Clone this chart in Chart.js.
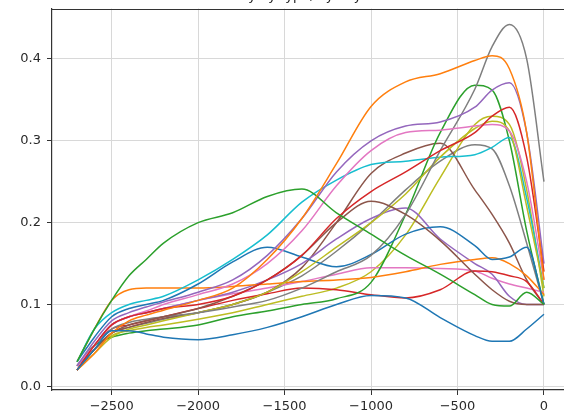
<!DOCTYPE html>
<html>
<head>
<meta charset="utf-8">
<script src="https://cdn.jsdelivr.net/npm/chart.js@4/dist/chart.umd.min.js"></script>
<style>
  html, body { margin: 0; padding: 0; background: #fff; overflow: hidden; width: 564px; height: 416px; }
  #wrap { position: absolute; left: 0; top: -20px; width: 568px; height: 436px; }
</style>
</head>
<body>
<div id="wrap"><canvas id="c" width="568" height="436"></canvas></div>
<script>
const titleText = "Density by type, by day";
const xs = [-2700,-2600,-2500,-2400,-2300,-2200,-2000,-1800,-1600,-1400,-1200,-1000,-800,-600,-400,-300,-200,-100,0];
const xTicks = [-2500,-2000,-1500,-1000,-500,0];
const yTicks = [0.0,0.1,0.2,0.3,0.4];

const s01 = [0.020,0.045,0.068,0.068,0.064,0.060,0.057,0.063,0.072,0.085,0.100,0.111,0.108,0.084,0.062,0.055,0.055,0.070,0.088];
const s02 = [0.020,0.040,0.065,0.080,0.087,0.093,0.105,0.120,0.155,0.205,0.272,0.342,0.372,0.382,0.398,0.404,0.388,0.310,0.130];
const s03 = [0.030,0.070,0.105,0.135,0.155,0.175,0.200,0.212,0.232,0.241,0.212,0.186,0.160,0.137,0.112,0.100,0.098,0.115,0.100];
const s04 = [0.020,0.050,0.075,0.085,0.090,0.095,0.100,0.110,0.130,0.160,0.205,0.238,0.262,0.288,0.310,0.330,0.341,0.280,0.140];
const s05 = [0.025,0.055,0.080,0.090,0.097,0.103,0.115,0.130,0.160,0.205,0.262,0.300,0.318,0.323,0.341,0.362,0.371,0.310,0.150];
const s06 = [0.020,0.045,0.065,0.075,0.080,0.085,0.095,0.110,0.130,0.160,0.200,0.226,0.210,0.178,0.137,0.118,0.104,0.100,0.100];
const s07 = [0.025,0.050,0.075,0.085,0.092,0.100,0.112,0.125,0.150,0.190,0.245,0.288,0.310,0.313,0.318,0.320,0.312,0.250,0.130];
const s08 = [0.025,0.050,0.070,0.078,0.082,0.085,0.090,0.097,0.105,0.120,0.140,0.160,0.210,0.288,0.363,0.415,0.442,0.400,0.250];
const s09 = [0.020,0.040,0.060,0.070,0.075,0.080,0.090,0.100,0.115,0.140,0.170,0.200,0.235,0.280,0.315,0.324,0.312,0.220,0.120];
const s10 = [0.030,0.070,0.090,0.100,0.105,0.110,0.130,0.155,0.185,0.225,0.252,0.271,0.275,0.280,0.283,0.292,0.304,0.230,0.120];
const s11 = [0.030,0.060,0.085,0.095,0.100,0.105,0.125,0.152,0.170,0.158,0.146,0.161,0.186,0.195,0.172,0.155,0.158,0.170,0.100];
const s12 = [0.030,0.070,0.105,0.118,0.120,0.120,0.120,0.122,0.125,0.128,0.130,0.133,0.140,0.149,0.155,0.157,0.150,0.135,0.112];
const s13 = [0.025,0.050,0.060,0.065,0.068,0.070,0.075,0.085,0.092,0.100,0.107,0.127,0.210,0.310,0.368,0.362,0.300,0.190,0.100];
const s14 = [0.020,0.050,0.070,0.075,0.080,0.085,0.095,0.105,0.113,0.120,0.118,0.112,0.108,0.118,0.141,0.140,0.135,0.128,0.100];
const s15 = [0.025,0.050,0.075,0.085,0.090,0.095,0.105,0.115,0.130,0.150,0.180,0.205,0.218,0.180,0.150,0.137,0.110,0.100,0.100];
const s16 = [0.020,0.045,0.065,0.072,0.078,0.083,0.090,0.100,0.115,0.145,0.200,0.260,0.285,0.297,0.240,0.210,0.175,0.130,0.100];
const s17 = [0.025,0.050,0.075,0.085,0.090,0.095,0.105,0.113,0.120,0.128,0.137,0.145,0.145,0.144,0.141,0.132,0.125,0.120,0.115];
const s18 = [0.020,0.045,0.062,0.068,0.072,0.075,0.082,0.090,0.100,0.110,0.120,0.140,0.185,0.255,0.320,0.330,0.320,0.240,0.110];
const s19 = [0.020,0.045,0.065,0.072,0.077,0.082,0.090,0.100,0.115,0.135,0.165,0.200,0.240,0.275,0.295,0.290,0.245,0.175,0.100];

const series = [s01,s02,s03,s04,s05,s06,s07,s08,s09,s10,s11,s12,s13,s14,s15,s16,s17,s18,s19];
const colors = ['#1f77b4','#ff7f0e','#2ca02c','#d62728','#9467bd','#8c564b','#e377c2','#7f7f7f','#bcbd22','#17becf',
                '#1f77b4','#ff7f0e','#2ca02c','#d62728','#9467bd','#8c564b','#e377c2','#bcbd22','#7f7f7f'];

const datasets = series.map((s, k) => ({
  data: xs.map((x, i) => ({x: x, y: s[i]})),
  borderColor: colors[k],
  backgroundColor: colors[k],
  borderWidth: 1.5,
  pointRadius: 0,
  fill: false,
  cubicInterpolationMode: 'monotone'
}));

const topSpine = {
  id: 'topSpine',
  afterDraw(chart) {
    const a = chart.chartArea, ctx = chart.ctx;
    ctx.save();
    ctx.strokeStyle = '#333';
    ctx.lineWidth = 1.2;
    ctx.beginPath();
    ctx.moveTo(a.left, Math.round(a.top) + 0.5);
    ctx.lineTo(a.right, Math.round(a.top) + 0.5);
    ctx.stroke();
    ctx.restore();
  }
};

const fmtX = v => v < 0 ? '\u2212' + Math.abs(v) : String(v);

new Chart(document.getElementById('c'), {
  type: 'line',
  data: { datasets },
  plugins: [topSpine],
  options: {
    responsive: false,
    animation: false,
    devicePixelRatio: 1,
    layout: { padding: 0 },
    plugins: {
      legend: { display: false },
      tooltip: { enabled: false },
      title: {
        display: true,
        text: titleText,
        color: '#222',
        font: { family: 'DejaVu Sans', size: 13, weight: 'normal' },
        padding: { top: 9, bottom: 4 }
      }
    },
    scales: {
      x: {
        type: 'linear',
        min: -2845, max: 139,
        afterBuildTicks: ax => { ax.ticks = xTicks.map(v => ({value: v})); },
        afterFit: sc => { sc.height = 26; },
        grid: { color: '#d8d8d8', lineWidth: 1, tickColor: '#333', tickLength: 5 },
        border: { display: true, color: '#333', width: 1.2 },
        ticks: { color: '#2a2a2a', padding: 4, maxRotation: 0, autoSkip: false,
                 font: { family: 'DejaVu Sans', size: 13 }, callback: v => fmtX(v) }
      },
      y: {
        type: 'linear',
        min: -0.0045, max: 0.4615,
        afterBuildTicks: ax => { ax.ticks = yTicks.map(v => ({value: v})); },
        afterFit: sc => { sc.width = 52; },
        grid: { color: '#d8d8d8', lineWidth: 1, tickColor: '#333', tickLength: 5 },
        border: { display: true, color: '#333', width: 1.2 },
        ticks: { color: '#2a2a2a', padding: 6, autoSkip: false,
                 font: { family: 'DejaVu Sans', size: 13 }, callback: v => v.toFixed(1) }
      }
    }
  }
});
</script>
</body>
</html>
